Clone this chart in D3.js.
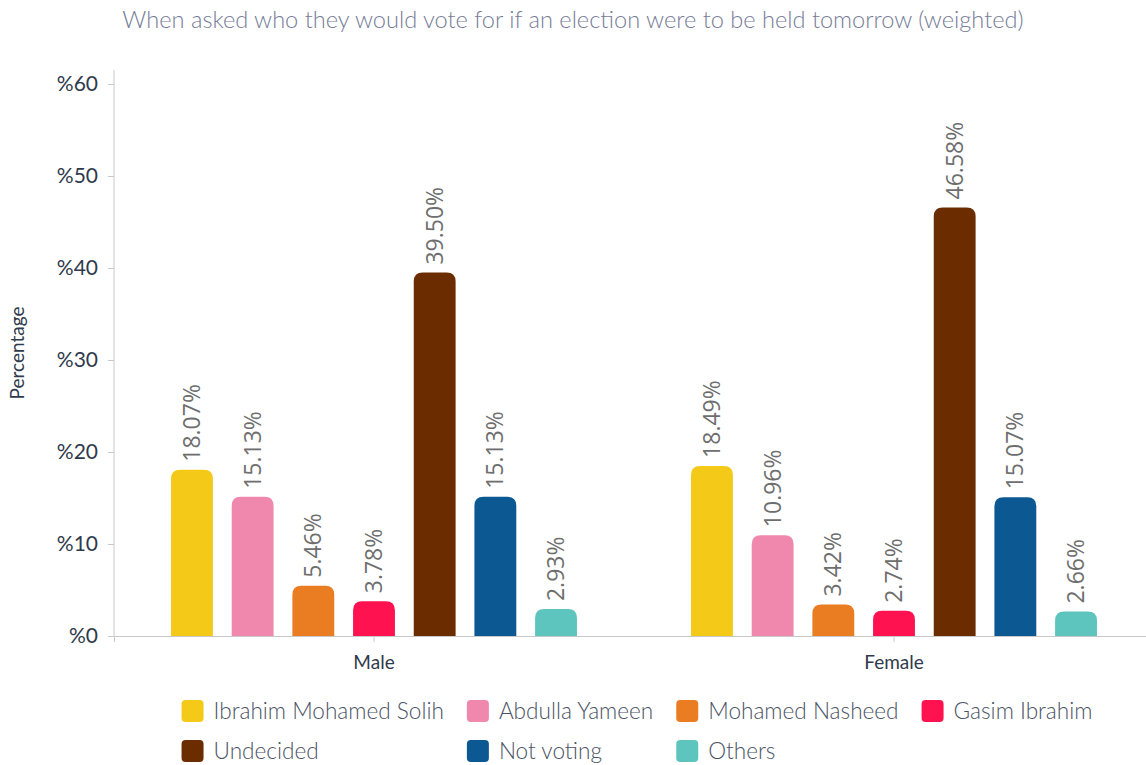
<!DOCTYPE html>
<html>
<head>
<meta charset="utf-8">
<script src="https://cdn.jsdelivr.net/npm/d3@7"></script>
<style>
  body { margin: 0; background: #fff; }
  text { font-family: Lato, "Open Sans", sans-serif; }
</style>
</head>
<body>
<div id="chart"></div>
<script>
// Data
const groups = ['Male', 'Female'];
const seriesNames = ['Ibrahim Mohamed Solih', 'Abdulla Yameen', 'Mohamed Nasheed', 'Gasim Ibrahim',
                     'Undecided', 'Not voting', 'Others'];
const maleValues = [18.07, 15.13, 5.46, 3.78, 39.50, 15.13, 2.93];
const femaleValues = [18.49, 10.96, 3.42, 2.74, 46.58, 15.07, 2.66];
const seriesColors = ['#F5C918', '#F087AD', '#EA7D22', '#FF124F', '#6B2C00', '#0C5893', '#5DC5BE'];
const yTicks = [0, 10, 20, 30, 40, 50, 60];

const width = 1146, height = 765;
const margin = { left: 114, top: 70, right: -8, bottom: 129 };
const plotBottom = height - margin.bottom; // 636

const svg = d3.select('#chart').append('svg')
    .attr('width', width)
    .attr('height', height);

// Scales
const y = d3.scaleLinear().domain([0, 60]).range([plotBottom, plotBottom - 552]);
const x0 = d3.scaleBand().domain(groups).range([margin.left, width - margin.right]);
const x1 = d3.scaleBand().domain(seriesNames).range([0, x0.bandwidth()])
    .paddingInner(0.31).paddingOuter(0.94);

// Title
svg.append('text')
    .attr('x', 573).attr('y', 28)
    .attr('text-anchor', 'middle')
    .style('font-size', '23.6px')
    .style('font-weight', 300)
    .style('fill', '#767c96')
    .text('When asked who they would vote for if an election were to be held tomorrow (weighted)');

// Y axis
const yAxis = svg.append('g')
    .attr('transform', `translate(${margin.left},0)`)
    .call(d3.axisLeft(y).tickValues(yTicks).tickSize(6).tickPadding(10).tickFormat(d => '%' + d));
yAxis.select('.domain').remove();
yAxis.selectAll('.tick line').attr('stroke', '#c8c8c8');
yAxis.selectAll('.tick text')
    .style('font-size', '21px')
    .style('fill', '#2f3a4c')
    .style('font-family', 'Lato, sans-serif');
svg.append('line')
    .attr('x1', margin.left).attr('x2', margin.left)
    .attr('y1', margin.top).attr('y2', plotBottom)
    .attr('stroke', '#c8c8c8');

// Y title
svg.append('text')
    .attr('transform', `translate(24, ${(plotBottom + margin.top) / 2}) rotate(-90)`)
    .attr('text-anchor', 'middle')
    .style('font-size', '19px')
    .style('fill', '#2f3a4c')
    .text('Percentage');

// X axis
const xAxis = svg.append('g')
    .attr('transform', `translate(0,${plotBottom})`)
    .call(d3.axisBottom(x0).tickSize(6).tickPadding(14));
xAxis.select('.domain').attr('stroke', '#c8c8c8');
xAxis.selectAll('.tick line').attr('stroke', '#c8c8c8');
xAxis.selectAll('.tick text')
    .style('font-size', '19px')
    .style('fill', '#2f3a4c')
    .style('font-family', 'Lato, sans-serif');

// Bars with rounded tops
function roundTopBar(x, yTop, w, h, r) {
    r = Math.min(r, h, w / 2);
    return `M${x},${yTop + h}V${yTop + r}Q${x},${yTop} ${x + r},${yTop}` +
        `H${x + w - r}Q${x + w},${yTop} ${x + w},${yTop + r}V${yTop + h}Z`;
}

const groupData = [maleValues, femaleValues];
const gGroups = svg.selectAll('.group')
    .data(groups)
    .enter().append('g')
    .attr('class', 'group')
    .attr('transform', d => `translate(${x0(d)},0)`);

gGroups.each(function (grp, gi) {
    const vals = seriesNames.map((s, i) => ({ name: s, value: groupData[gi][i], color: seriesColors[i] }));
    const g = d3.select(this);
    g.selectAll('path')
        .data(vals)
        .enter().append('path')
        .attr('d', d => roundTopBar(x1(d.name), y(d.value), x1.bandwidth(), plotBottom - y(d.value), 9))
        .attr('fill', d => d.color);

    g.selectAll('text.lbl')
        .data(vals)
        .enter().append('text')
        .attr('class', 'lbl')
        .attr('transform', d => `translate(${x1(d.name) + x1.bandwidth() / 2 + 8}, ${y(d.value) - 8}) rotate(-90)`)
        .style('font-family', '"Open Sans", sans-serif')
        .style('font-size', '23px')
        .style('fill', '#6e6e6e')
        .text(d => d.value.toFixed(2) + '%');
});

// Legend (column layout: second row aligned to first row's columns)
const legendCols = 4;
const legend = svg.append('g');
const swatch = 22, textGap = 10, itemGap = 23, legendFont = '22.6px';
const probe = legend.append('g');
const widths = seriesNames.slice(0, legendCols).map(n => {
    const t = probe.append('text').style('font-size', legendFont).style('font-weight', 300).text(n);
    return t.node().getComputedTextLength();
});
probe.remove();
const colX = [];
let cx = 0;
widths.forEach(w => { colX.push(cx); cx += swatch + textGap + w + itemGap; });
const totalW = cx - itemGap;
const legendStart = 637 - totalW / 2;

seriesNames.forEach((name, i) => {
    const col = i % legendCols, row = Math.floor(i / legendCols);
    const gx = legendStart + colX[col];
    const gy = 700 + row * 40;
    const item = legend.append('g').attr('transform', `translate(${gx},${gy})`);
    item.append('rect')
        .attr('width', swatch).attr('height', swatch)
        .attr('rx', 4)
        .attr('fill', seriesColors[i]);
    item.append('text')
        .attr('x', swatch + textGap).attr('y', swatch / 2)
        .attr('dy', '0.35em')
        .style('font-size', legendFont)
        .style('font-weight', 300)
        .style('fill', '#4a5364')
        .text(name);
});
</script>
</body>
</html>
